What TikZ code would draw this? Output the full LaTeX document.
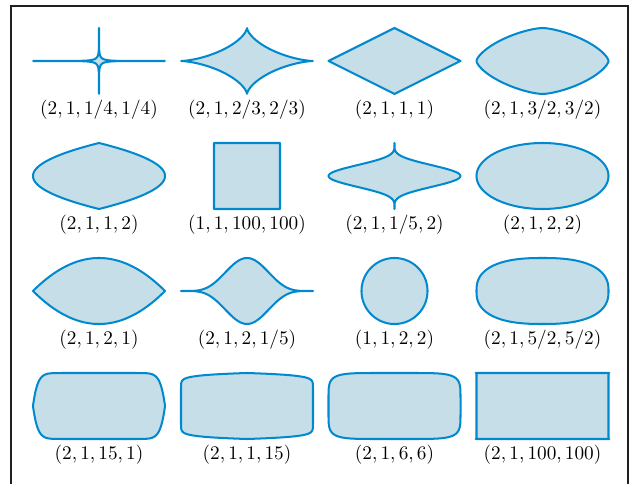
\documentclass[tikz,border=0pt]{standalone}
\usepackage{tikz}
\definecolor{shpline}{RGB}{0,137,207}
\definecolor{shpfill}{RGB}{197,222,232}
\definecolor{framec}{RGB}{35,31,32}
\tikzset{
  shp/.style={draw=shpline, fill=shpfill, line width=1.05pt, line join=round},
  lbl/.style={inner sep=0pt, font=\normalsize},
  framebox/.style={draw=framec, line width=1.1pt}
}
\newcommand\supershape[8]{%
  \draw[shp] plot[domain=0.25:359.75, samples=720, smooth=false]
    ({#1+33*(#3)*((cos(\x)<0)?-1:1)*pow(abs(cos(\x)),2/(#5))},
     {#2+33*(#4)*((sin(\x)<0)?-1:1)*pow(abs(sin(\x)),2/(#6))}) -- cycle;
  \node[lbl] (#8) at (#1,#2+49) {$(#7)$};
}
\begin{document}
\begin{tikzpicture}[x=0.52pt,y=-0.52pt]
\useasboundingbox (0,0) rectangle (630,484);
\coordinate (fa) at (11,495);
\coordinate (fb) at (11,6);
\coordinate (fc) at (628,6);
\coordinate (fd) at (628,495);
\draw[framebox] (fa) -- (fb) -- (fc) -- (fd);
% row 1
\supershape{99}{61}{2}{1}{1/4}{1/4}{2,1,1/4,1/4}{l11}
\supershape{247}{61}{2}{1}{2/3}{2/3}{2,1,2/3,2/3}{l12}
\supershape{394.5}{61}{2}{1}{1}{1}{2,1,1,1}{l13}
\supershape{542.5}{61}{2}{1}{3/2}{3/2}{2,1,3/2,3/2}{l14}
% row 2
\supershape{99}{176}{2}{1}{1}{2}{2,1,1,2}{l21}
\supershape{247}{176}{1}{1}{100}{100}{1,1,100,100}{l22}
\supershape{394.5}{176}{2}{1}{1/5}{2}{2,1,1/5,2}{l23}
\supershape{542.5}{176}{2}{1}{2}{2}{2,1,2,2}{l24}
% row 3
\supershape{99}{291}{2}{1}{2}{1}{2,1,2,1}{l31}
\supershape{247}{291}{2}{1}{2}{1/5}{2,1,2,1/5}{l32}
\supershape{394.5}{291}{1}{1}{2}{2}{1,1,2,2}{l33}
\supershape{542.5}{291}{2}{1}{5/2}{5/2}{2,1,5/2,5/2}{l34}
% row 4
\supershape{99}{406}{2}{1}{15}{1}{2,1,15,1}{l41}
\supershape{247}{406}{2}{1}{1}{15}{2,1,1,15}{l42}
\supershape{394.5}{406}{2}{1}{6}{6}{2,1,6,6}{l43}
\supershape{542.5}{406}{2}{1}{100}{100}{2,1,100,100}{l44}
\end{tikzpicture}
\end{document}
